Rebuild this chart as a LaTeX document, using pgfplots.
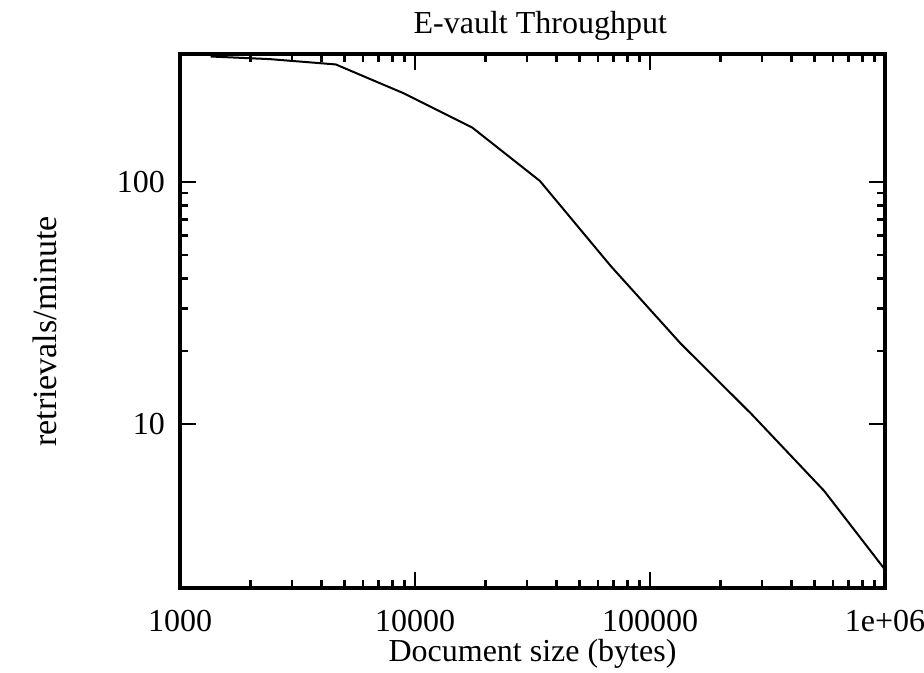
\documentclass[border=0pt]{standalone}
\usepackage{fontspec}
\setmainfont{Liberation Serif}
\usepackage{pgfplots}
\pgfplotsset{compat=1.18}
\begin{document}
\begin{tikzpicture}
\begin{axis}[
    scale only axis,
    width=352.5pt, height=267pt,
    xmode=log, ymode=log,
    xmin=1000, xmax=1000000,
    ymin=2.1, ymax=338,
    xtick={1000,10000,100000,1000000},
    xticklabels={1000,10000,100000,1e+06},
    ytick={10,100},
    yticklabels={10,100},
    tick align=inside,
    major tick length=8pt,
    minor tick length=4pt,
    every tick/.style={black, line width=1.3pt},
    axis line style={line width=1.8pt},
    tick label style={font=\fontsize{16}{19}\selectfont},
    xticklabel style={anchor=base, yshift=-22pt},
    yticklabel style={xshift=-4pt},
    every axis title/.style={at={(axis description cs:0.511,1.0375)}, anchor=base,
        font=\fontsize{16}{19}\selectfont},
    title={E-vault Throughput},
    every axis x label/.style={at={(axis description cs:0.5,-0.1386)}, anchor=base,
        font=\fontsize{16}{19}\selectfont},
    every axis y label/.style={at={(axis description cs:-0.1915,0.48)}, anchor=center,
        rotate=90, font=\fontsize{17}{20}\selectfont},
    xlabel={Document size (bytes)},
    ylabel={retrievals/minute},
    clip=false,
]
\addplot[black, line width=1pt] coordinates {
    (1350,330) (2400,322) (4600,306) (9000,232) (17500,168)
    (34000,101) (68000,45) (135000,21.5) (270000,11)
    (550000,5.3) (1000000,2.5)
};
\coordinate (bl) at (rel axis cs:0,0);
\coordinate (tr) at (rel axis cs:1,1);
\end{axis}
\pgfresetboundingbox
\path ([shift={(-90pt,-42.5pt)}]bl) rectangle ([shift={(19.5pt,27pt)}]tr);
\end{tikzpicture}
\end{document}
